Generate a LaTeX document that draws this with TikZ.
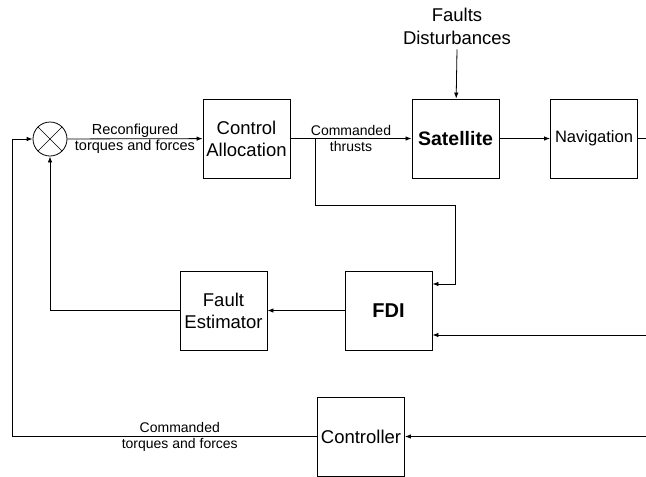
\documentclass[tikz,border=0pt]{standalone}
\usepackage{fontspec}
\setmainfont{Liberation Sans}
\usetikzlibrary{arrows.meta}

\begin{document}
\begin{tikzpicture}[
    x=1pt, y=-1pt,
    block/.style={rectangle, draw, line width=0.9pt, minimum width=87pt, minimum height=79pt, inner sep=0pt, align=center, font=\fontsize{18.5}{22}\selectfont},
    lbl/.style={align=center, font=\fontsize{14}{16}\selectfont, inner sep=0pt},
    arr/.style={-{Latex[length=6pt,width=4.5pt]}, line width=0.8pt},
    wire/.style={line width=0.8pt}
]
    \useasboundingbox (0,0) rectangle (646,477);

    % forward path
    \node[circle, draw, line width=0.8pt, minimum size=34pt, inner sep=0pt,
          path picture={\draw[line width=0.6pt] (path picture bounding box.north west) -- (path picture bounding box.south east)
                        (path picture bounding box.north east) -- (path picture bounding box.south west);}] (sum) at (50,139) {};
    \node[block] (alloc) at (246.5,138.5) {Control\\Allocation};
    \node[block, font=\fontsize{19.5}{22}\selectfont\bfseries] (sat) at (455.5,138.5) {Satellite};
    \node[block, font=\fontsize{16.5}{20}\selectfont] (nav) at (594,138.5) {Navigation};
    \node[align=center, font=\fontsize{18.5}{23}\selectfont, inner sep=1pt] (faults) at (457,26) {Faults\\Disturbances};

    % fault path
    \node[block, font=\fontsize{20}{22}\selectfont\bfseries] (fdi) at (388.5,310.5) {FDI};
    \node[block] (fe) at (223.5,310.5) {Fault\\Estimator};
    \node[block] (ctrl) at (361,436.5) {Controller};

    % free ends and bends
    \coordinate (tap) at (315,139);
    \coordinate (bend) at (455,205);
    \coordinate (navout) at (646,138.5);
    \coordinate (fdiin) at (646,335);
    \coordinate (ctrlin) at (646,436.5);
    \coordinate (lft) at (12,436.5);

    \draw[arr] (sum) -- node[lbl, font=\fontsize{14.5}{16}\selectfont] {Reconfigured\\torques and forces} (alloc);
    \draw[arr] (alloc) -- node[lbl] {Commanded\\thrusts} (sat);
    \draw[arr] ([yshift=-4pt]faults.south) -- (sat);
    \draw[arr] (sat) -- (nav);
    \draw[wire] (nav) -- (navout);
    \draw[arr] (tap) |- (bend) |- ([yshift=26.5pt]fdi.east);
    \draw[arr] (fdiin) -- ([yshift=-24.5pt]fdi.east);
    \draw[arr] (fdi) -- (fe);
    \draw[arr] (fe.west) -| (sum.south);
    \draw[arr] (ctrlin) -- (ctrl);
    \draw[arr] (ctrl.west) -- node[lbl, pos=0.45] {Commanded\\torques and forces} (lft) |- (sum.west);

\end{tikzpicture}
\end{document}
